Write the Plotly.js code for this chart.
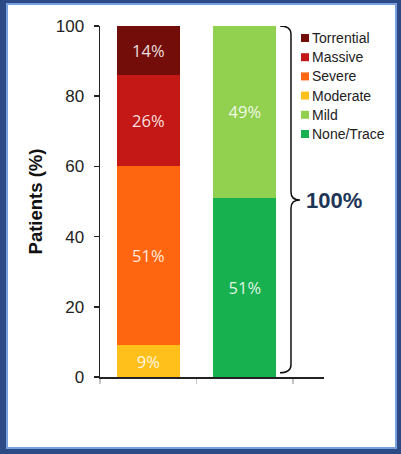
<!DOCTYPE html>
<html>
<head>
<meta charset="utf-8">
<script src="https://cdn.plot.ly/plotly-3.0.1.min.js"></script>
<style>
html,body{margin:0;padding:0;background:#2b4a86;}
#chart{width:401px;height:454px;}
</style>
</head>
<body>
<div id="chart"></div>
<script>
// ---- data ----
var categories = [0, 1];              // left bar, right bar
var seriesNames = ["None/Trace", "Mild", "Moderate", "Severe", "Massive", "Torrential"];
var noneTrace  = [null, 51];
var mild       = [null, 49];
var moderate   = [9, null];
var severe     = [51, null];
var massive    = [26, null];
var torrential = [14, null];
var yTickVals  = [0, 20, 40, 60, 80, 100];
var legendOrder = ["Torrential", "Massive", "Severe", "Moderate", "Mild", "None/Trace"];
var totalLabel = "100%";

var seriesValues = [noneTrace, mild, moderate, severe, massive, torrential];
var colors = {
  "None/Trace": "#18b14f",
  "Mild": "#92d050",
  "Moderate": "#ffc01c",
  "Severe": "#ff660f",
  "Massive": "#c31816",
  "Torrential": "#730d09"
};

var traces = seriesNames.map(function (name, i) {
  var vals = seriesValues[i];
  return {
    type: "bar",
    name: name,
    x: categories,
    y: vals,
    width: 0.65,
    marker: { color: colors[name], line: { width: 0 } },
    text: vals.map(function (v) { return v == null ? "" : v + "%"; }),
    textposition: "inside",
    insidetextanchor: "middle",
    textangle: 0,
    insidetextfont: { family: "Open Sans, sans-serif", size: 16.5, color: "rgba(255,255,255,0.88)" },
    hoverinfo: "skip",
    showlegend: false
  };
});

// layout geometry (px)
var W = 401, H = 454, L = 100, R = 77, T = 26, B = 77;
var pw = W - L - R, ph = H - T - B;
function px(x) { return (x - L) / pw; }
function py(y) { return (H - B - y) / ph; }

var shapes = [
  { type: "rect", xref: "paper", yref: "paper", layer: "below",
    x0: px(7), x1: px(396), y0: py(448), y1: py(4),
    fillcolor: "#ffffff", line: { color: "#79a0de", width: 2 } },
  { type: "path", xref: "x", yref: "y", layer: "above",
    path: "M 1.364,100 Q 1.478,100 1.478,97.7 L 1.478,52.7 Q 1.478,50.4 1.571,50.4 Q 1.478,50.4 1.478,48.1 L 1.478,3.5 Q 1.478,1.2 1.364,1.2",
    line: { color: "#111111", width: 1.5 } }
];

var annotations = [
  { xref: "x", yref: "y", x: 1.61, y: 50.4, xanchor: "left", yanchor: "middle",
    text: "<b>" + totalLabel + "</b>", showarrow: false,
    font: { family: "Liberation Sans, Arial, sans-serif", size: 22, color: "#1e3556" } }
];

// legend (custom, to match compact swatches)
legendOrder.forEach(function (name, i) {
  var cy = 38 + i * 19.2;
  shapes.push({ type: "rect", xref: "paper", yref: "paper",
    x0: px(301), x1: px(309), y0: py(cy + 4), y1: py(cy - 4),
    fillcolor: colors[name], line: { width: 0 } });
  annotations.push({ xref: "paper", yref: "paper", x: px(310), y: py(cy),
    xanchor: "left", yanchor: "middle", text: name, showarrow: false,
    font: { family: "Liberation Sans, Arial, sans-serif", size: 14, color: "#222222" } });
});

var layout = {
  width: W, height: H,
  margin: { l: L, r: R, t: T, b: B, pad: 0 },
  paper_bgcolor: "#2b4a86",
  plot_bgcolor: "rgba(0,0,0,0)",
  barmode: "stack",
  bargap: 0,
  showlegend: false,
  xaxis: {
    type: "linear", range: [-0.5, 1.82], fixedrange: true,
    tickvals: [-0.5, 0.5, 1.5], ticktext: ["", "", ""],
    ticks: "outside", ticklen: 5, tickcolor: "#c4c4c4", tickwidth: 1.5,
    showline: true, linecolor: "#222222", linewidth: 1.5,
    showgrid: false, zeroline: false
  },
  yaxis: {
    range: [0, 100], fixedrange: true,
    tickvals: yTickVals,
    ticks: "outside", ticklen: 5, tickcolor: "#222222", tickwidth: 1.5,
    ticklabelstandoff: 6,
    tickfont: { family: "Liberation Sans, Arial, sans-serif", size: 17, color: "#222222" },
    showline: true, linecolor: "#222222", linewidth: 1.5,
    showgrid: false, zeroline: false,
    title: { text: "<b>Patients (%)</b>", standoff: 8,
      font: { family: "Liberation Sans, Arial, sans-serif", size: 18.5, color: "#111111" } }
  },
  shapes: shapes,
  annotations: annotations
};

Plotly.newPlot("chart", traces, layout, { displayModeBar: false, staticPlot: true });
</script>
</body>
</html>
